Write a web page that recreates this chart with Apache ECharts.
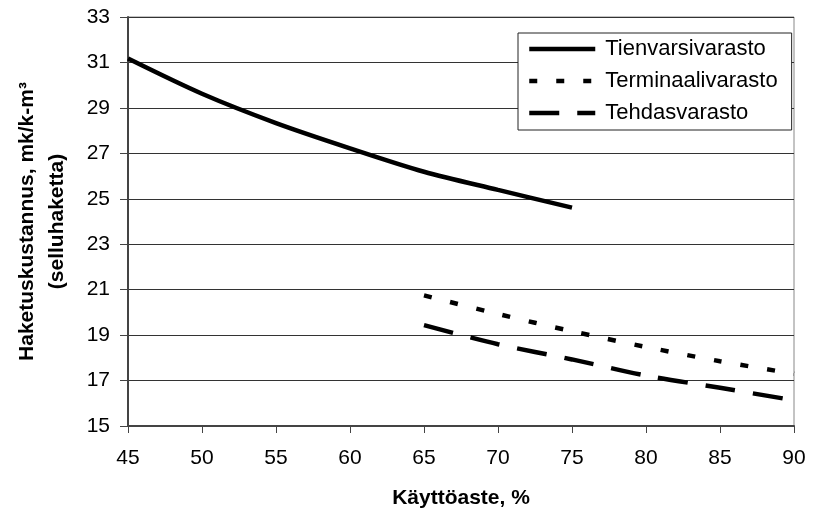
<!DOCTYPE html>
<html><head><meta charset="utf-8">
<script src="https://cdn.jsdelivr.net/npm/echarts@6/dist/echarts.min.js"></script>
<style>html,body{margin:0;padding:0;background:#fff}#c{width:814px;height:514px}</style>
</head><body><div id="c"></div>
<script>
const xTienvarsi = [45, 50, 55, 60, 65, 70, 75];
const yTienvarsi = [31.17, 29.62, 28.33, 27.22, 26.19, 25.39, 24.61];
const xTerminaali = [65, 70, 75, 80, 85, 90];
const yTerminaali = [20.75, 19.93, 19.17, 18.48, 17.85, 17.30];
const xTehdas = [65, 70, 75, 80, 85, 90];
const yTehdas = [19.44, 18.60, 17.93, 17.22, 16.68, 16.13];
const seriesNames = ['Tienvarsivarasto', 'Terminaalivarasto', 'Tehdasvarasto'];
const xAxisTitle = 'Käyttöaste, %';
const yAxisTitle = 'Haketuskustannus, mk/k-m³\n(selluhaketta)';

const FONT = '"Liberation Sans", Arial, sans-serif';
function pairs(xs, ys) { return xs.map((x, i) => [x, ys[i]]); }

const chart = echarts.init(document.getElementById('c'), null, {renderer: 'canvas'});
chart.setOption({
  animation: false,
  backgroundColor: '#fff',
  textStyle: {fontFamily: FONT, color: '#000'},
  grid: {left: 128, right: 20, top: 17, bottom: 88, show: true, borderColor: '#888', borderWidth: 1, backgroundColor: '#fff'},
  legend: {
    orient: 'vertical', left: 518, top: 33,
    itemWidth: 66, itemHeight: 14, itemGap: 10,
    padding: [5, 14, 6, 9],
    backgroundColor: '#fff', borderColor: '#222', borderWidth: 1,
    itemStyle: {opacity: 0, borderWidth: 0},
    lineStyle: {width: 4.5},
    textStyle: {fontFamily: FONT, fontSize: 22, color: '#000', padding: [0, 0, 0, 5]},
    data: seriesNames
  },
  xAxis: {
    type: 'value', min: 45, max: 90, interval: 5,
    name: xAxisTitle, nameLocation: 'middle', nameGap: 62,
    nameTextStyle: {fontFamily: FONT, fontSize: 21, fontWeight: 'bold', color: '#000'},
    axisLine: {show: true, onZero: false, lineStyle: {color: '#444', width: 2}},
    axisTick: {show: true, length: 7, lineStyle: {color: '#444', width: 1}},
    axisLabel: {fontFamily: FONT, fontSize: 21, color: '#000', margin: 22},
    splitLine: {show: false}
  },
  yAxis: {
    type: 'value', min: 15, max: 33, interval: 2,
    name: yAxisTitle, nameLocation: 'middle', nameGap: 56, nameRotate: 90,
    nameTextStyle: {fontFamily: FONT, fontSize: 21, fontWeight: 'bold', color: '#000', lineHeight: 30, align: 'center'},
    axisLine: {show: true, lineStyle: {color: '#444', width: 2}},
    axisTick: {show: true, length: 8, lineStyle: {color: '#444', width: 1}},
    axisLabel: {fontFamily: FONT, fontSize: 21, color: '#000', margin: 18},
    splitLine: {show: true, lineStyle: {color: '#333', width: 1}}
  },
  series: [
    {name: seriesNames[0], type: 'line', data: pairs(xTienvarsi, yTienvarsi), smooth: 0.3, symbol: 'none',
     lineStyle: {color: '#000', width: 4.5, type: 'solid'}, itemStyle: {color: '#000'}},
    {name: seriesNames[1], type: 'line', data: pairs(xTerminaali, yTerminaali), smooth: 0.3, symbol: 'none',
     lineStyle: {color: '#000', width: 4.5, type: [8, 19]}, itemStyle: {color: '#000'}},
    {name: seriesNames[2], type: 'line', data: pairs(xTehdas, yTehdas), smooth: 0.3, symbol: 'none',
     lineStyle: {color: '#000', width: 4.5, type: [30, 18]}, itemStyle: {color: '#000'}}
  ]
});
</script></body></html>
